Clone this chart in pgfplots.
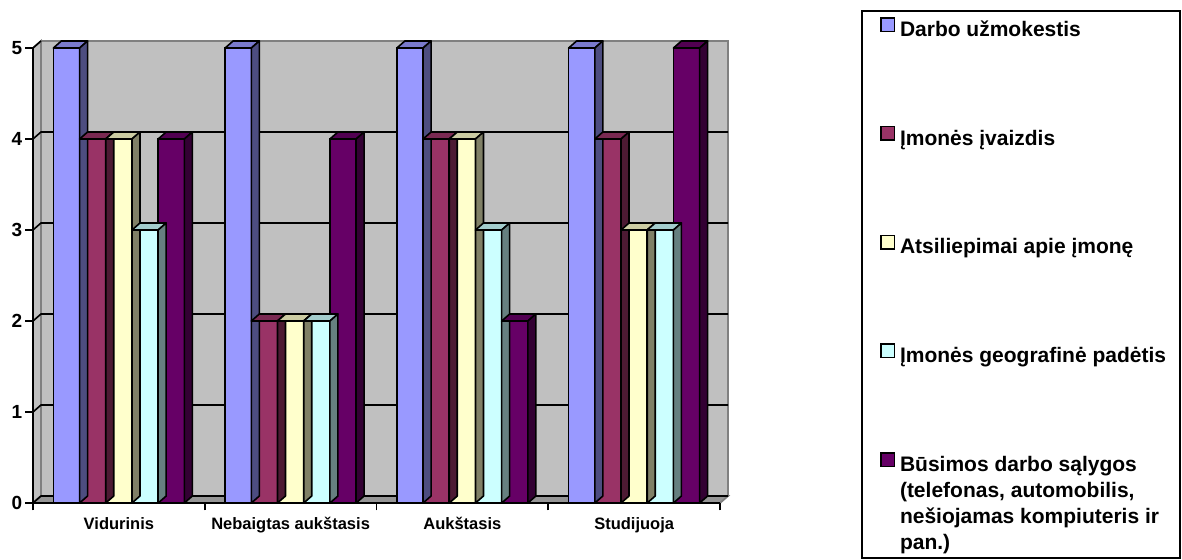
\documentclass[border=0pt]{standalone}
\usepackage{pgfplots}
\pgfplotsset{compat=1.18}
\usepackage{pgfplotstable}
\usepackage{fontspec}
\setmainfont{Liberation Sans}

\definecolor{c1}{HTML}{9999FF}\definecolor{c1t}{HTML}{7A7ACC}\definecolor{c1s}{HTML}{4D4D80}
\definecolor{c2}{HTML}{993366}\definecolor{c2t}{HTML}{7A2952}\definecolor{c2s}{HTML}{4D1A33}
\definecolor{c3}{HTML}{FFFFCC}\definecolor{c3t}{HTML}{CCCCA3}\definecolor{c3s}{HTML}{808066}
\definecolor{c4}{HTML}{CCFFFF}\definecolor{c4t}{HTML}{A3CCCC}\definecolor{c4s}{HTML}{668080}
\definecolor{c5}{HTML}{660066}\definecolor{c5t}{HTML}{520052}\definecolor{c5s}{HTML}{330033}
\definecolor{wallgray}{HTML}{C0C0C0}
\definecolor{edgegray}{HTML}{808080}
\definecolor{floorgray}{HTML}{969696}

\pgfdeclareplotmark{nothing}{}

\pgfplotstableread{
cat a b c d e
0 5 4 4 3 4
1 5 2 2 2 4
2 5 4 4 3 2
3 5 4 3 3 5
}\datatable

\pgfplotsset{
  sqlegend/.style={legend image code/.code={\draw[##1, draw=black, line width=1.5pt] (0pt,0pt) rectangle (13.5pt,13.5pt);}},
}
\newcommand{\yl}[1]{{\fontsize{19}{20}\selectfont\bfseries #1}}

\newcommand{\faces}[4]{%
\addplot[forget plot, only marks, scatter, mark=nothing,
  visualization depends on={rawy \as \yv},
  scatter/@pre marker code/.code={%
    \pgfmathsetmacro{\hh}{\yv*91}%
    \filldraw[fill=#3, draw=black, line width=1.6pt, line join=round]
      (#2pt-13.1pt,0pt) -- (#2pt+13.1pt,0pt) -- (#2pt+21.1pt,7pt) -- (#2pt-5.1pt,7pt) -- cycle;
    \filldraw[fill=#4, draw=black, line width=1.6pt, line join=round]
      (#2pt+13.1pt,0pt) -- (#2pt+21.1pt,7pt) -- (#2pt+21.1pt,7pt-\hh pt) -- (#2pt+13.1pt,-\hh pt) -- cycle;
  },
  scatter/@post marker code/.code={},
] table[x=cat, y=#1] {\datatable};
}

\begin{document}
\begin{tikzpicture}
\useasboundingbox (0,0) rectangle (1182pt,559pt);
\begin{axis}[
  at={(33pt,56pt)}, anchor=south west,
  scale only axis, width=687pt, height=455pt,
  xmin=-0.5, xmax=3.5, ymin=0, ymax=5,
  axis x line=bottom, axis y line=left,
  axis line style={-, line width=1.6pt, black},
  axis on top,
  clip=false,
  xtick={-0.5,0.5,1.5,2.5,3.5},
  x tick label as interval,
  xticklabels={Vidurinis, Nebaigtas aukštasis, Aukštasis, Studijuoja},
  ytick={0,1,2,3,4,5},
  yticklabels={\yl{0},\yl{1},\yl{2},\yl{3},\yl{4},\yl{5}},
  major tick length=7.5pt,
  tick align=outside,
  tick style={black, line width=1.6pt},
  xticklabel style={font=\bfseries\fontsize{16.5}{19}\selectfont, inner sep=0pt, text height=12pt, text depth=3pt, yshift=-7pt},
  yticklabel style={inner sep=0pt, xshift=-3pt},
  legend cell align=left,
  legend style={at={(1.2329,1.0681)}, anchor=north west, draw=none, fill=none,
    inner sep=0pt, outer sep=0pt, row sep=83.5pt, column sep=5pt,
    font=\bfseries\fontsize{21}{26}\selectfont,
    nodes={inner sep=0pt, text height=16pt, text depth=6pt}},
]
% walls
\filldraw[fill=wallgray, draw=edgegray, line width=1.8pt]
  ([shift={(8pt,7pt)}]axis cs:-0.5,0) rectangle ([shift={(8pt,7pt)}]axis cs:3.5,5);
\filldraw[fill=wallgray, draw=edgegray, line width=1.8pt]
  (axis cs:-0.5,0) -- ([shift={(8pt,7pt)}]axis cs:-0.5,0) -- ([shift={(8pt,7pt)}]axis cs:-0.5,5) -- (axis cs:-0.5,5) -- cycle;
\filldraw[fill=floorgray, draw=edgegray, line width=1.8pt]
  (axis cs:-0.5,0) -- (axis cs:3.5,0) -- ([shift={(8pt,7pt)}]axis cs:3.5,0) -- ([shift={(8pt,7pt)}]axis cs:-0.5,0) -- cycle;
% grid lines
\draw[black, line width=1.6pt] (axis cs:-0.5,0) -- ([shift={(8pt,7pt)}]axis cs:-0.5,0) -- ([shift={(8pt,7pt)}]axis cs:3.5,0);
\draw[black, line width=1.6pt] (axis cs:-0.5,1) -- ([shift={(8pt,7pt)}]axis cs:-0.5,1) -- ([shift={(8pt,7pt)}]axis cs:3.5,1);
\draw[black, line width=1.6pt] (axis cs:-0.5,2) -- ([shift={(8pt,7pt)}]axis cs:-0.5,2) -- ([shift={(8pt,7pt)}]axis cs:3.5,2);
\draw[black, line width=1.6pt] (axis cs:-0.5,3) -- ([shift={(8pt,7pt)}]axis cs:-0.5,3) -- ([shift={(8pt,7pt)}]axis cs:3.5,3);
\draw[black, line width=1.6pt] (axis cs:-0.5,4) -- ([shift={(8pt,7pt)}]axis cs:-0.5,4) -- ([shift={(8pt,7pt)}]axis cs:3.5,4);
\draw[black, line width=1.6pt] (axis cs:-0.5,5) -- ([shift={(8pt,7pt)}]axis cs:-0.5,5);

\addplot[ybar, bar width=26.2pt, bar shift=-52.4pt, fill=c1, draw=black, line width=1.6pt, sqlegend] table[x=cat,y=a]{\datatable};
\addlegendentry{Darbo užmokestis}
\faces{a}{-52.4}{c1t}{c1s}
\addplot[ybar, bar width=26.2pt, bar shift=-26.2pt, fill=c2, draw=black, line width=1.6pt, sqlegend] table[x=cat,y=b]{\datatable};
\addlegendentry{Įmonės įvaizdis}
\faces{b}{-26.2}{c2t}{c2s}
\addplot[ybar, bar width=26.2pt, bar shift=0pt, fill=c3, draw=black, line width=1.6pt, sqlegend] table[x=cat,y=c]{\datatable};
\addlegendentry{Atsiliepimai apie įmonę}
\faces{c}{0}{c3t}{c3s}
\addplot[ybar, bar width=26.2pt, bar shift=26.2pt, fill=c4, draw=black, line width=1.6pt, sqlegend] table[x=cat,y=d]{\datatable};
\addlegendentry{Įmonės geografinė padėtis}
\faces{d}{26.2}{c4t}{c4s}
\addplot[ybar, bar width=26.2pt, bar shift=52.4pt, fill=c5, draw=black, line width=1.6pt, sqlegend] table[x=cat,y=e]{\datatable};
\addlegendentry{\vtop{\hbox{Būsimos darbo sąlygos}\hbox{(telefonas, automobilis,}\hbox{nešiojamas kompiuteris ir}\hbox{pan.)}}}
\faces{e}{52.4}{c5t}{c5s}
\end{axis}
\draw[black, line width=2pt] (862pt,548pt) rectangle (1180pt,1pt);
\end{tikzpicture}
\end{document}
